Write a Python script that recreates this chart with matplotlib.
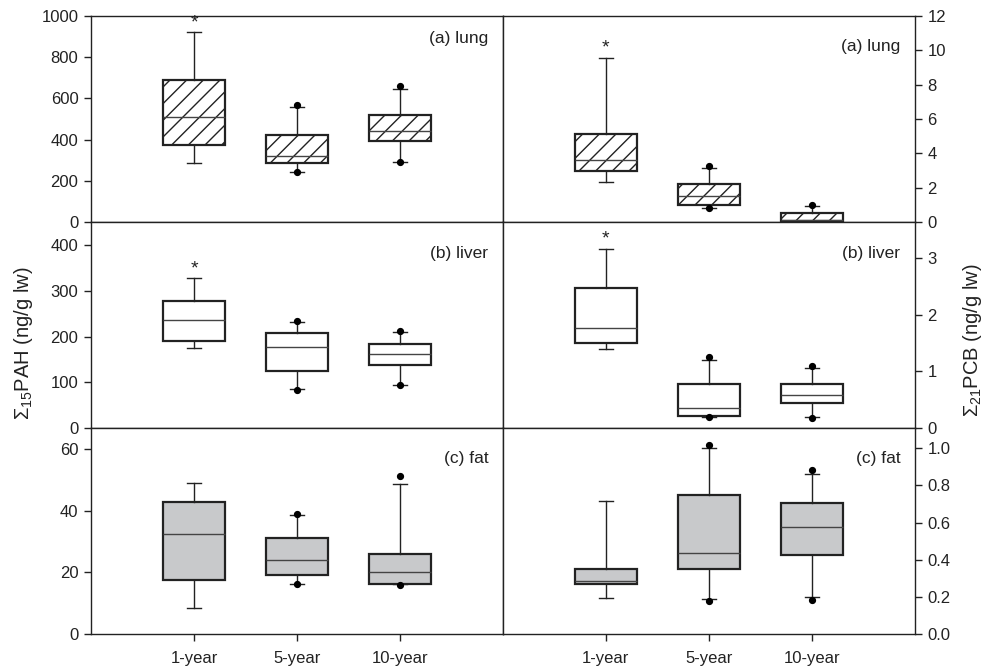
import matplotlib
matplotlib.use('Agg')
import matplotlib.pyplot as plt

plt.rcParams['font.family'] = ['Liberation Sans', 'DejaVu Sans']
plt.rcParams['mathtext.default'] = 'regular'

groups = ['1-year', '5-year', '10-year']

# PAH (ng/g lw): lung, liver, fat
pah_lung_q1 = [373, 288, 392]
pah_lung_med = [509, 319, 442]
pah_lung_q3 = [689, 423, 519]
pah_lung_lo = [285, 245, 292]
pah_lung_hi = [920, 557, 648]
pah_lung_out = [[], [566, 245], [658, 292]]

pah_liver_q1 = [191, 126, 137]
pah_liver_med = [236, 177, 161]
pah_liver_q3 = [277, 208, 183]
pah_liver_lo = [176, 85, 95]
pah_liver_hi = [327, 232, 210]
pah_liver_out = [[], [235, 83], [213, 95]]

pah_fat_q1 = [17.5, 19.1, 16.4]
pah_fat_med = [32.5, 24.2, 20.0]
pah_fat_q3 = [42.8, 31.2, 26.1]
pah_fat_lo = [8.4, 16.4, 16.2]
pah_fat_hi = [49.1, 38.8, 48.8]
pah_fat_out = [[], [39.1, 16.4], [51.5, 15.9]]

# PCB (ng/g lw): lung, liver, fat
pcb_lung_q1 = [2.98, 0.97, 0.05]
pcb_lung_med = [3.64, 1.50, 0.15]
pcb_lung_q3 = [5.14, 2.20, 0.54]
pcb_lung_lo = [2.33, 0.82, 0.05]
pcb_lung_hi = [9.57, 3.15, 0.93]
pcb_lung_out = [[], [3.25, 0.82], [0.99]]

pcb_liver_q1 = [1.50, 0.22, 0.44]
pcb_liver_med = [1.76, 0.36, 0.59]
pcb_liver_q3 = [2.47, 0.78, 0.78]
pcb_liver_lo = [1.39, 0.20, 0.19]
pcb_liver_hi = [3.16, 1.21, 1.06]
pcb_liver_out = [[], [1.25, 0.19], [1.09, 0.18]]

pcb_fat_q1 = [0.27, 0.351, 0.427]
pcb_fat_med = [0.288, 0.436, 0.575]
pcb_fat_q3 = [0.351, 0.746, 0.703]
pcb_fat_lo = [0.195, 0.19, 0.20]
pcb_fat_hi = [0.715, 1.00, 0.861]
pcb_fat_out = [[], [1.02, 0.18], [0.883, 0.182]]

# which group carries a significance star
pah_star = [[True, False, False], [True, False, False], [False, False, False]]
pcb_star = [[True, False, False], [True, False, False], [False, False, False]]

line_col = '#222222'
fat_col = '#c8c9cb'


def make_stats(q1, med, q3, lo, hi, out):
    stats = []
    for i in range(len(q1)):
        stats.append(dict(q1=q1[i], med=med[i], q3=q3[i], whislo=lo[i],
                          whishi=hi[i], fliers=out[i], label=groups[i]))
    return stats


def draw_panel(ax, stats, stars, style):
    pos = [1, 2, 3]
    bp = ax.bxp(stats, positions=pos, widths=0.6, patch_artist=True,
                capwidths=0.14,
                boxprops=dict(edgecolor=line_col, linewidth=1.6),
                medianprops=dict(color='#444444', linewidth=1.0),
                whiskerprops=dict(color=line_col, linewidth=1.0),
                capprops=dict(color=line_col, linewidth=1.0),
                flierprops=dict(marker='o', markersize=4.2, markerfacecolor='black',
                                markeredgecolor='black', linestyle='none'))
    for patch in bp['boxes']:
        if style == 'hatch':
            patch.set_facecolor('white')
            patch.set_hatch('//')
        elif style == 'gray':
            patch.set_facecolor(fat_col)
        else:
            patch.set_facecolor('white')
    for i, s in enumerate(stars):
        if s:
            ax.annotate('*', xy=(pos[i], stats[i]['whishi']), xytext=(0, 1),
                        textcoords='offset points', ha='center', va='bottom',
                        fontsize=14, color=line_col)
    ax.set_xlim(0, 4)
    for sp in ax.spines.values():
        sp.set_color(line_col)
        sp.set_linewidth(1.0)


fig = plt.figure(figsize=(9.88, 6.67), dpi=100)
plt.rcParams['hatch.linewidth'] = 1.0
plt.rcParams['hatch.color'] = line_col

xl, xm, xr = 0.0921, 0.509, 0.926
rows = [0.667, 0.358, 0.0495]
h = 0.309
w = xm - xl

pah = [
    make_stats(pah_lung_q1, pah_lung_med, pah_lung_q3, pah_lung_lo, pah_lung_hi, pah_lung_out),
    make_stats(pah_liver_q1, pah_liver_med, pah_liver_q3, pah_liver_lo, pah_liver_hi, pah_liver_out),
    make_stats(pah_fat_q1, pah_fat_med, pah_fat_q3, pah_fat_lo, pah_fat_hi, pah_fat_out),
]
pcb = [
    make_stats(pcb_lung_q1, pcb_lung_med, pcb_lung_q3, pcb_lung_lo, pcb_lung_hi, pcb_lung_out),
    make_stats(pcb_liver_q1, pcb_liver_med, pcb_liver_q3, pcb_liver_lo, pcb_liver_hi, pcb_liver_out),
    make_stats(pcb_fat_q1, pcb_fat_med, pcb_fat_q3, pcb_fat_lo, pcb_fat_hi, pcb_fat_out),
]
styles = ['hatch', 'plain', 'gray']
names = ['(a) lung', '(b) liver', '(c) fat']
pah_ylim = [1000, 450, 67]
pah_ticks = [range(0, 1001, 200), range(0, 401, 100), range(0, 61, 20)]
pcb_ylim = [12, 3.63, 1.11]
pcb_ticks = [range(0, 13, 2), [0, 1, 2, 3], [0, 0.2, 0.4, 0.6, 0.8, 1.0]]
label_y_left = [0.893, 0.85, 0.85]
label_y_right = [0.85, 0.85, 0.85]

for r in range(3):
    axl = fig.add_axes([xl, rows[r], w, h])
    draw_panel(axl, pah[r], pah_star[r], styles[r])
    axl.set_ylim(0, pah_ylim[r])
    axl.set_yticks(list(pah_ticks[r]))
    axl.text(0.965, label_y_left[r], names[r], transform=axl.transAxes,
             ha='right', va='center', fontsize=12.5, color=line_col)

    axr = fig.add_axes([xm, rows[r], xr - xm, h])
    draw_panel(axr, pcb[r], pcb_star[r], styles[r])
    axr.set_ylim(0, pcb_ylim[r])
    axr.set_yticks(list(pcb_ticks[r]))
    if r == 2:
        axr.set_yticklabels(['%.1f' % t for t in pcb_ticks[r]])
    axr.yaxis.tick_right()
    axr.text(0.965, label_y_right[r], names[r], transform=axr.transAxes,
             ha='right', va='center', fontsize=12.5, color=line_col)

    for ax in (axl, axr):
        ax.tick_params(axis='y', direction='out', length=5, width=1,
                       color=line_col, labelsize=12, labelcolor=line_col, pad=4)
        if r == 2:
            ax.set_xticks([1, 2, 3])
            ax.set_xticklabels(groups)
            ax.tick_params(axis='x', direction='out', length=5, width=1,
                           color=line_col, labelsize=12, labelcolor=line_col, pad=7)
        else:
            ax.set_xticks([])

fig.text(0.024, 0.485, r'$\Sigma_{15}$PAH (ng/g lw)', rotation=90,
         ha='center', va='center', fontsize=14.5, color=line_col)
fig.text(0.984, 0.49, r'$\Sigma_{21}$PCB (ng/g lw)', rotation=90,
         ha='center', va='center', fontsize=14.5, color=line_col)

fig.savefig('out.png', dpi=100)
